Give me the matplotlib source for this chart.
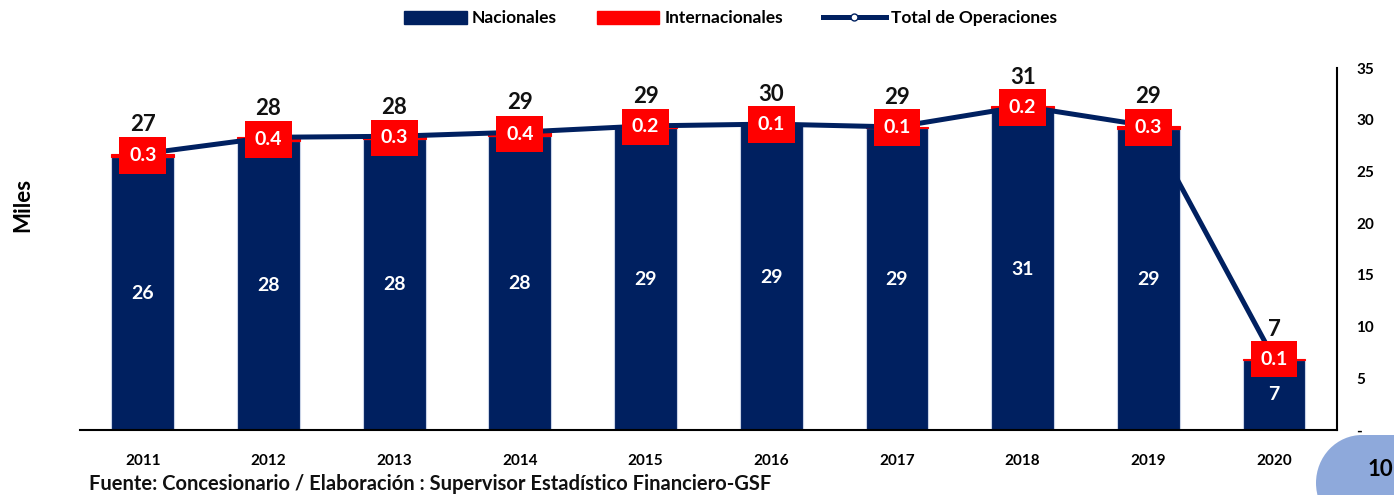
import matplotlib.pyplot as plt
from matplotlib.lines import Line2D
from matplotlib.patches import Patch, Ellipse, Rectangle
import numpy as np

# datos (miles de operaciones)
anios = ["2011", "2012", "2013", "2014", "2015", "2016", "2017", "2018", "2019", "2020"]
nacionales = [26.4, 27.9, 28.1, 28.4, 29.2, 29.46, 29.2, 31.1, 29.1, 6.8]
internacionales = [0.3, 0.4, 0.3, 0.4, 0.2, 0.12, 0.1, 0.2, 0.3, 0.1]
ytick_vals = [0, 5, 10, 15, 20, 25, 30, 35]
ytick_labels = ["-", "5", "10", "15", "20", "25", "30", "35"]

AZUL = "#002060"
ROJO = "#FF0000"
plt.rcParams['font.family'] = ['Lato', 'DejaVu Sans']

nac = np.array(nacionales)
inter = np.array(internacionales)
total = nac + inter
x = np.arange(len(anios))

fig = plt.figure(figsize=(13.94, 4.95), dpi=100)
ax = fig.add_axes([0.0574, 0.1313, 0.9016, 0.7313])

ax.bar(x, nac, width=0.5, color=AZUL, edgecolor="#c9d3e6", linewidth=0.8, zorder=2)
ax.bar(x, inter, width=0.5, bottom=nac, color=ROJO, edgecolor=ROJO, linewidth=0.8, zorder=2)
ax.plot(x, total, color=AZUL, linewidth=3.6, solid_capstyle="round", zorder=3)

for i in range(len(x)):
    ax.text(x[i], nac[i] / 2, f"{nac[i]:.0f}", color="white", fontsize=14, fontweight="bold",
            ha="center", va="center", zorder=5)
    ax.text(x[i], nac[i] + inter[i] / 2, f"{inter[i]:.1f}", color="white", fontsize=14,
            fontweight="bold", ha="center", va="center", zorder=5,
            bbox=dict(boxstyle="square,pad=0.5", facecolor=ROJO, edgecolor="none"))
    ax.annotate(f"{total[i]:.0f}", (x[i], total[i]), xytext=(0, 21), textcoords="offset points",
                ha="center", va="center", fontsize=16, fontweight="bold", color="#111111", zorder=5)

ax.set_xlim(-0.5, len(x) - 0.5)
ax.set_ylim(0, 35)
ax.set_xticks(x)
ax.set_xticklabels(anios, fontsize=11, fontweight="bold")
ax.yaxis.tick_right()
ax.set_yticks(ytick_vals)
ax.set_yticklabels(ytick_labels, fontsize=11, fontweight="bold")
ax.tick_params(axis="both", length=0)
ax.tick_params(axis="x", pad=17)
ax.tick_params(axis="y", pad=14)
for s in ["top", "left"]:
    ax.spines[s].set_visible(False)
ax.spines["bottom"].set_linewidth(1.5)
ax.spines["right"].set_linewidth(1.5)

fig.text(0.016, 0.585, "Miles", rotation=90, fontsize=16, fontweight="bold", ha="center", va="center")

handles = [Patch(facecolor=AZUL, edgecolor=AZUL),
           Patch(facecolor=ROJO, edgecolor=ROJO),
           Line2D([0], [0], color=AZUL, linewidth=3.6, marker="o", markersize=5,
                  markerfacecolor="white", markeredgecolor=AZUL)]
fig.legend(handles, ["Nacionales", "Internacionales", "Total de Operaciones"],
           loc="center", bbox_to_anchor=(0.524, 0.963), ncol=3, frameon=False,
           prop={"size": 12.5, "weight": "bold"}, handlelength=3.6, handleheight=0.8,
           columnspacing=2.3, handletextpad=0.3)

fig.text(0.064, 0.022, "Fuente: Concesionario / Elaboración : Supervisor Estadístico Financiero-GSF",
         fontsize=14.5, fontweight="bold", color="#111111", ha="left", va="center")

# numero de pagina (forma redondeada celeste)
ax_pag = fig.add_axes([1316 / 1394, 0, 78 / 1394, 60 / 495])
ax_pag.set_xlim(0, 78)
ax_pag.set_ylim(0, 60)
ax_pag.axis("off")
ax_pag.add_patch(Ellipse((46, 12), 92, 96, facecolor="#8EA9DB", edgecolor="none"))
ax_pag.add_patch(Rectangle((46, -40), 60, 100, facecolor="#8EA9DB", edgecolor="none"))
ax_pag.text(64, 25, "10", fontsize=16, fontweight="bold", ha="center", va="center")

fig.savefig("out.png", dpi=100)
